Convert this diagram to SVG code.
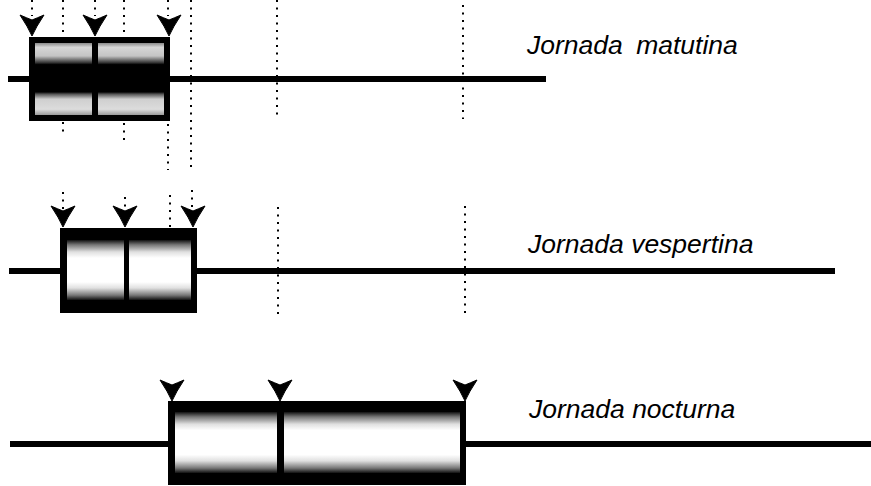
<svg xmlns="http://www.w3.org/2000/svg" xmlns:xlink="http://www.w3.org/1999/xlink" width="871" height="486" viewBox="0 0 871 486">
<style>
.axis{fill:#000}
.frame{fill:#000}
.lbl{font-family:"Liberation Sans",Arial,sans-serif;font-style:italic;font-size:26.5px;fill:#000}
.dot{stroke:#000;stroke-width:2;stroke-dasharray:2 5.5;fill:none}
.cellM{fill:url(#gM)}
.cellL{fill:url(#gL)}
</style>
<defs>
<linearGradient id="gM" x1="0" y1="0" x2="0" y2="1">
<stop offset="0" stop-color="#8a8a8a"/>
<stop offset="0.06" stop-color="#d6d6d6"/>
<stop offset="0.18" stop-color="#c4c4c4"/>
<stop offset="0.27" stop-color="#3a3a3a"/>
<stop offset="0.3" stop-color="#000"/>
<stop offset="0.68" stop-color="#000"/>
<stop offset="0.71" stop-color="#555"/>
<stop offset="0.78" stop-color="#cfcfcf"/>
<stop offset="0.92" stop-color="#dcdcdc"/>
<stop offset="1" stop-color="#9a9a9a"/>
</linearGradient>
<linearGradient id="gL" x1="0" y1="0" x2="0" y2="1">
<stop offset="0" stop-color="#111"/>
<stop offset="0.08" stop-color="#777"/>
<stop offset="0.2" stop-color="#e0e0e0"/>
<stop offset="0.3" stop-color="#fff"/>
<stop offset="0.7" stop-color="#fff"/>
<stop offset="0.8" stop-color="#e0e0e0"/>
<stop offset="0.92" stop-color="#777"/>
<stop offset="1" stop-color="#111"/>
</linearGradient>
<path id="ah" d="M0,0 Q-4,-9 -12,-21 Q-5,-18 0,-16 Q5,-18 12,-21 Q4,-9 0,0 Z" fill="#000" stroke="#000" stroke-width="1" stroke-linejoin="round"/>
</defs>

<g id="matutina">
<rect class="axis" x="8" y="76" width="538" height="6"/>
<rect class="frame" x="29" y="37" width="141" height="84"/>
<rect class="cellM" x="35" y="43" width="57" height="72"/>
<rect class="cellM" x="98" y="43" width="66" height="72"/>
<text class="lbl" x="527" y="54" word-spacing="6">Jornada matutina</text>
</g>

<g id="vespertina">
<rect class="axis" x="9" y="268" width="826" height="6"/>
<rect class="frame" x="60" y="228" width="137" height="85"/>
<rect class="cellL" x="67" y="240" width="57" height="60"/>
<rect class="cellL" x="129" y="240" width="62" height="60"/>
<text class="lbl" x="528" y="253">Jornada vespertina</text>
</g>

<g id="nocturna">
<rect class="axis" x="10" y="441" width="861" height="6"/>
<rect class="frame" x="168" y="401" width="298" height="84"/>
<rect class="cellL" x="175" y="412" width="102" height="61"/>
<rect class="cellL" x="284" y="412" width="176" height="61"/>
<text class="lbl" x="529" y="418">Jornada nocturna</text>
</g>

<g id="connectors">
<path class="dot" d="M32,0V16 M95,0V16 M168,0V16"/>
<path class="dot" d="M63,0V32 M63,122V136 M63,192V210"/>
<path class="dot" d="M124,0V34 M124,123V143 M125,197V210"/>
<path class="dot" d="M168,124V170 M170,195V228"/>
<path class="dot" d="M191,0V172 M192,190V210"/>
<path class="dot" d="M277,0V120 M278,207V315"/>
<path class="dot" d="M463,5V119 M465,206V314"/>
<use xlink:href="#ah" x="32" y="36"/>
<use xlink:href="#ah" x="95" y="36"/>
<use xlink:href="#ah" x="169" y="36"/>
<use xlink:href="#ah" x="63" y="227"/>
<use xlink:href="#ah" x="125" y="227"/>
<use xlink:href="#ah" x="193" y="227"/>
<use xlink:href="#ah" x="172" y="401"/>
<use xlink:href="#ah" x="280" y="401"/>
<use xlink:href="#ah" x="465" y="401"/>
</g>
</svg>
